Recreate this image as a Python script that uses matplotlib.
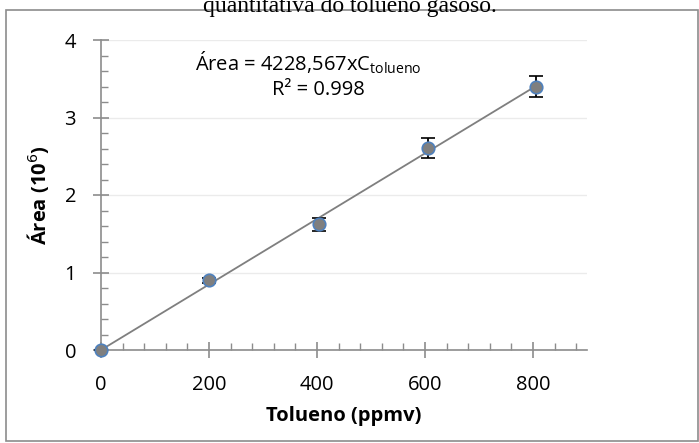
import matplotlib.pyplot as plt
from matplotlib.patches import Rectangle
from matplotlib.ticker import MultipleLocator
import numpy as np

# --- Data ---
tolueno = [0, 200, 403, 605, 805]
area = [0.0, 0.90, 1.62, 2.61, 3.40]
erro = [0.0, 0.03, 0.08, 0.13, 0.13]
slope = 4228.567 / 1e6  # area (10^6) per ppmv
x_ticks = [0, 200, 400, 600, 800]
y_ticks = [0, 1, 2, 3, 4]

plt.rcParams['font.family'] = ['Open Sans', 'DejaVu Sans']

fig = plt.figure(figsize=(6.99, 4.43), dpi=100)
ax = fig.add_axes([101 / 699, 1 - 350 / 443, 486 / 699, 310 / 443])

# outer frame of the chart area
fig.patches.append(Rectangle((6 / 699, 2 / 443), 692 / 699, (443 - 12) / 443,
                             transform=fig.transFigure, fill=False,
                             edgecolor="#8c8c8c", lw=1.2))
# caption line above the chart (top cut off, as in the source)
fig.text(0.5, 1 - 12 / 443, "quantitativa do tolueno gasoso.",
         ha="center", va="baseline", family="Liberation Serif", fontsize=17)

# trend line
xl = np.array([0, tolueno[-1]])
ax.plot(xl, slope * xl, color="#7f7f7f", lw=1.3, zorder=2)

ax.errorbar(tolueno, area, yerr=erro, fmt="o", ms=9, mfc="#7f7f7f",
            mec="#4f81bd", mew=1.2, ecolor="black", elinewidth=1.3,
            capsize=5, capthick=1.3, zorder=3, clip_on=False)

ax.set_xlim(0, 900)
ax.set_ylim(0, 4)
ax.set_xticks(x_ticks)
ax.set_yticks(y_ticks)
ax.xaxis.set_minor_locator(MultipleLocator(40))
ax.yaxis.set_minor_locator(MultipleLocator(0.2))
ax.grid(axis="y", which="major", color="#ebebeb", lw=1)
ax.set_axisbelow(True)

for s in ["top", "right"]:
    ax.spines[s].set_visible(False)
for s in ["left", "bottom"]:
    ax.spines[s].set_color("#8c8c8c")
    ax.spines[s].set_linewidth(1.2)

ax.tick_params(which="major", direction="inout", length=12, width=1.2,
               color="#8c8c8c", labelsize=14.5)
ax.tick_params(axis="x", which="major", pad=12)
ax.tick_params(axis="y", which="major", pad=12)
ax.tick_params(which="minor", direction="in", length=5, width=1.0,
               color="#8c8c8c")

ax.set_xlabel("Tolueno (ppmv)", fontsize=14.5, fontweight="bold", va="center")
ax.set_ylabel("Área (10$^6$)", fontsize=14.5, fontweight="bold", va="center")
ax.xaxis.set_label_coords(0.5, (350 - 416) / 310)
ax.yaxis.set_label_coords((38 - 101) / 486, 0.5)

ax.text(174, 3.70, "Área = 4228,567xC$_{\\mathregular{tolueno}}$", fontsize=14.5,
        ha="left", va="center")
ax.text(317, 3.35, "R² = 0.998", fontsize=14.5, ha="left", va="center")

fig.savefig("out.png", dpi=100)
